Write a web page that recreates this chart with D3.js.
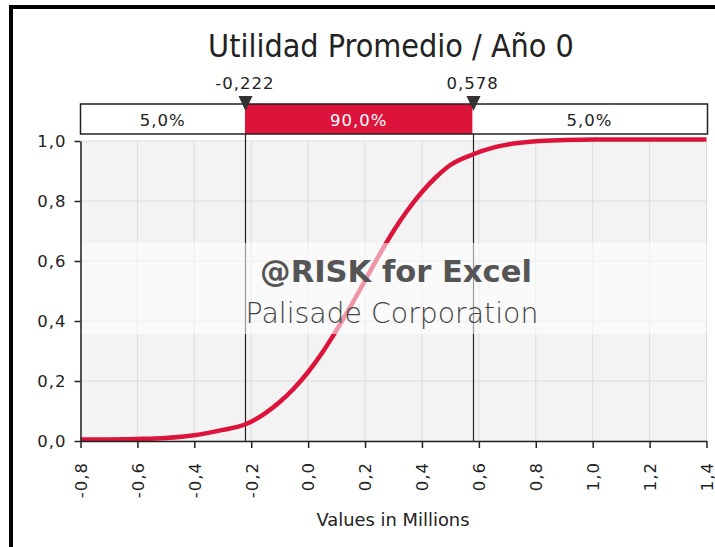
<!DOCTYPE html>
<html>
<head>
<meta charset="utf-8">
<script src="https://cdn.jsdelivr.net/npm/d3@7"></script>
<style>
  html, body { margin: 0; padding: 0; background: #fff; }
  svg { display: block; }
  text { font-family: "DejaVu Sans", sans-serif; }
</style>
</head>
<body>
<svg id="chart" width="715" height="547"></svg>
<script>
// ---- data ----
const title = "Utilidad Promedio / Año 0";
const xLabel = "Values in Millions";
const cdfX = [-0.8, -0.6, -0.5, -0.4, -0.3, -0.222, -0.15, -0.1, -0.05, 0.0, 0.05, 0.1, 0.15, 0.2, 0.25, 0.3, 0.35, 0.4, 0.45, 0.5, 0.578, 0.65, 0.7, 0.8, 0.9, 1.0, 1.4];
const cdfY = [0.0, 0.002, 0.005, 0.014, 0.032, 0.05, 0.088, 0.125, 0.17, 0.225, 0.29, 0.365, 0.445, 0.53, 0.615, 0.695, 0.765, 0.825, 0.875, 0.915, 0.95, 0.973, 0.983, 0.994, 0.998, 1.0, 1.0];
const markers = [-0.222, 0.578];
const markerLabels = ["-0,222", "0,578"];
const bandLabels = ["5,0%", "90,0%", "5,0%"];
const xTicks = [-0.8, -0.6, -0.4, -0.2, 0.0, 0.2, 0.4, 0.6, 0.8, 1.0, 1.2, 1.4];
const yTicks = [0.0, 0.2, 0.4, 0.6, 0.8, 1.0];
const watermark1 = "@RISK for Excel";
const watermark2 = "Palisade Corporation";

const RED = "#dc143c";
const fmt = v => d3.format(".1f")(v).replace("\u2212", "-").replace(".", ",");

const svg = d3.select("#chart");
const L = 80.5, R = 706.5, T = 141, B = 441;
const x = d3.scaleLinear().domain([-0.8, 1.4]).range([L, R]);
const y = d3.scaleLinear().domain([0, 1]).range([B, T]);

function fit(sel, w) {
  const n = sel.node();
  const fs = parseFloat(sel.attr("font-size"));
  const len = n.getComputedTextLength();
  sel.attr("font-size", fs * w / len);
}
const SMALL = 16.5, LS = "1px";

// outer frame
svg.append("rect").attr("x", 11).attr("y", 7).attr("width", 760).attr("height", 600)
  .attr("fill", "none").attr("stroke", "#000").attr("stroke-width", 4);

// title
const t = svg.append("text").attr("x", 391).attr("y", 57).attr("text-anchor", "middle")
  .attr("font-size", 26).attr("fill", "#222").style("font-family", "'DejaVu Sans Condensed', sans-serif")
  .style("font-weight", 300).text(title);
fit(t, 366);

// plot background
svg.append("rect").attr("x", L).attr("y", T).attr("width", R - L).attr("height", B - T).attr("fill", "#f3f3f3");

// grid
svg.append("g").selectAll("line").data(xTicks).join("line")
  .attr("x1", d => x(d)).attr("x2", d => x(d)).attr("y1", T).attr("y2", B)
  .attr("stroke", "#dcdcdc").attr("stroke-width", 1);
svg.append("g").selectAll("line").data(yTicks).join("line")
  .attr("x1", L).attr("x2", R).attr("y1", d => y(d)).attr("y2", d => y(d))
  .attr("stroke", "#dcdcdc").attr("stroke-width", 1);

// marker vertical lines
const barTop = 104, barBot = 134;
svg.append("g").selectAll("line").data(markers).join("line")
  .attr("x1", d => Math.round(x(d)) + 0.5).attr("x2", d => Math.round(x(d)) + 0.5)
  .attr("y1", barBot).attr("y2", B).attr("stroke", "#222").attr("stroke-width", 1.2);

// curve
const pts = cdfX.map((v, i) => [v, cdfY[i]]);
const line = d3.line().x(d => x(d[0])).y(d => y(d[1]) - 1.5).curve(d3.curveMonotoneX);
svg.append("path").attr("d", line(pts)).attr("fill", "none").attr("stroke", RED).attr("stroke-width", 4.5);

// watermark band (semi-transparent white)
svg.append("rect").attr("x", L).attr("y", 243).attr("width", R - L).attr("height", 91)
  .attr("fill", "#fff").attr("opacity", 0.55);

const w1 = svg.append("text").attr("x", 396).attr("y", 282).attr("text-anchor", "middle")
  .attr("font-size", 32).attr("fill", "#555").style("font-family", "'DejaVu Sans', sans-serif")
  .style("font-weight", "bold").text(watermark1);
fit(w1, 272);
const w2 = svg.append("text").attr("x", 392).attr("y", 323).attr("text-anchor", "middle")
  .attr("font-size", 28).attr("fill", "#444").style("font-family", "'DejaVu Sans', sans-serif")
  .style("font-weight", 300).text(watermark2);
fit(w2, 293);

// axes
const yAxis = d3.axisLeft(y).tickValues(yTicks).tickSize(6).tickSizeOuter(0).tickFormat(fmt);
const gy = svg.append("g").attr("transform", `translate(${L},0)`).call(yAxis);
gy.select(".domain").attr("stroke", "#222").attr("stroke-width", 1.5);
gy.selectAll(".tick line").attr("stroke", "#222").attr("stroke-width", 1.5);
gy.selectAll(".tick text").attr("font-size", SMALL).attr("fill", "#222").attr("x", -14)
  .style("font-family", "'DejaVu Sans', sans-serif").style("letter-spacing", LS);

const xAxis = d3.axisBottom(x).tickValues(xTicks).tickSize(7).tickSizeOuter(0).tickFormat(fmt);
const gx = svg.append("g").attr("transform", `translate(0,${B})`).call(xAxis);
gx.select(".domain").attr("stroke", "#222").attr("stroke-width", 1.5);
gx.selectAll(".tick line").attr("stroke", "#222").attr("stroke-width", 1.5);
gx.selectAll(".tick text").attr("font-size", SMALL).attr("fill", "#222")
  .attr("transform", "translate(0,21) rotate(-90)").attr("text-anchor", "end")
  .attr("x", 0).attr("y", 0).attr("dy", "0.35em")
  .style("font-family", "'DejaVu Sans', sans-serif").style("letter-spacing", LS);

// x label
const xl = svg.append("text").attr("x", 393).attr("y", 526).attr("text-anchor", "middle")
  .attr("font-size", 16).attr("fill", "#222").text(xLabel);
fit(xl, 153);

// top band bar
const edges = [x.domain()[0], ...markers, x.domain()[1]];
const segs = bandLabels.map((lab, i) => ({ a: edges[i], b: edges[i + 1], lab, mid: i === 1 }));
const gb = svg.append("g");
gb.selectAll("rect").data(segs).join("rect")
  .attr("x", d => x(d.a)).attr("width", d => x(d.b) - x(d.a))
  .attr("y", barTop).attr("height", barBot - barTop)
  .attr("fill", d => d.mid ? RED : "#fff");
gb.append("rect").attr("x", x(edges[0])).attr("y", barTop)
  .attr("width", x(edges[3]) - x(edges[0]) + 1).attr("height", barBot - barTop)
  .attr("fill", "none").attr("stroke", "#222").attr("stroke-width", 1.5);
gb.selectAll("text").data(segs).join("text")
  .attr("x", d => (x(d.a) + x(d.b)) / 2).attr("y", 126).attr("text-anchor", "middle")
  .attr("font-size", SMALL).style("letter-spacing", LS)
  .attr("fill", d => d.mid ? "#fff" : "#222").text(d => d.lab);

// marker triangles and labels
const gm = svg.append("g");
gm.selectAll("path").data(markers).join("path")
  .attr("d", d => { const cx = Math.round(x(d)) + 0.5; return `M${cx - 7},96 L${cx + 7},96 L${cx},111 Z`; })
  .attr("fill", "#333");
gm.selectAll("text").data(markers).join("text")
  .attr("x", d => x(d)).attr("y", 89).attr("text-anchor", "middle")
  .attr("font-size", SMALL).style("letter-spacing", LS)
  .attr("fill", "#222").text((d, i) => markerLabels[i]);
</script>
</body>
</html>
